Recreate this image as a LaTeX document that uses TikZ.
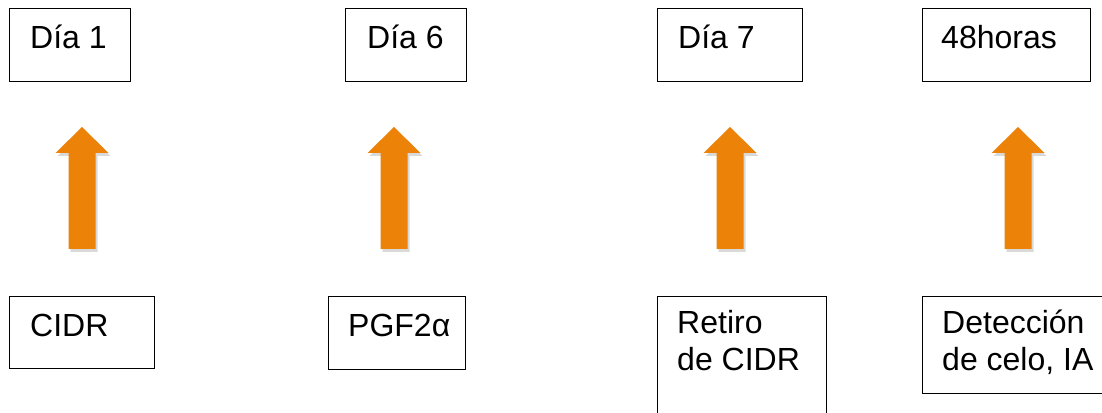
\documentclass[tikz,border=0pt]{standalone}
\usepackage{fontspec}
\setmainfont{Liberation Sans}
\usetikzlibrary{calc,shadows}
\definecolor{arroworange}{RGB}{236,130,8}
\def\blockarrow[#1](#2){\fill[#1] ($(#2)+(-13.5,0)$) -- ++(0,96) -- ++(-13,0) -- ++(26.5,26) -- ++(26.5,-26) -- ++(-13,0) -- ++(0,-96) -- cycle;}
\tikzset{
	tbox/.style={draw=black, line width=1pt, anchor=north west, inner sep=0pt},
	ttext/.style={anchor=north west, inner sep=0pt, align=left, font=\fontsize{32}{37}\selectfont, execute at begin node=\strut},
	orangearrow/.style={fill=arroworange, drop shadow={shadow xshift=2pt, shadow yshift=-3pt, opacity=.3}}
}

\begin{document}
\begin{tikzpicture}[x=1pt,y=1pt]
		%%%%% START %%%%%
		\useasboundingbox (0,0) rectangle (1102,412);
		\clip (0,0) rectangle (1102,412);
		
		% top row
		\node[tbox, minimum width=121pt, minimum height=73pt] (dia1) at (9,404) {};
		\node[tbox, minimum width=121pt, minimum height=73pt] (dia6) at (345,404) {};
		\node[tbox, minimum width=145pt, minimum height=73pt] (dia7) at (657,404) {};
		\node[tbox, minimum width=168pt, minimum height=73pt] (horas) at (922,404) {};
		
		\node[ttext] (dia1txt) at ($(dia1.north west)+(21,-14.1)$) {Día 1};
		\node[ttext] (dia6txt) at ($(dia6.north west)+(22,-14.1)$) {Día 6};
		\node[ttext] (dia7txt) at ($(dia7.north west)+(21,-14.1)$) {Día 7};
		\node[ttext] (horastxt) at ($(horas.north west)+(19,-14.1)$) {48horas};
		
		% arrows
		\coordinate (a1) at (82,163);
		\coordinate (a2) at (394,163);
		\coordinate (a3) at (730,163);
		\coordinate (a4) at (1018,163);
		\blockarrow[orangearrow](a1);
		\blockarrow[orangearrow](a2);
		\blockarrow[orangearrow](a3);
		\blockarrow[orangearrow](a4);
		
		% bottom row
		\node[tbox, minimum width=145pt, minimum height=72pt] (cidr) at (9,116) {};
		\node[tbox, minimum width=137pt, minimum height=73pt] (pgf) at (328,116) {};
		\node[tbox, minimum width=169pt, minimum height=130pt] (retiro) at (657,116) {};
		\node[tbox, minimum width=190pt, minimum height=97pt] (deteccion) at (922,116) {};
		
		\node[ttext] (cidrtxt) at ($(cidr.north west)+(21,-14.1)$) {CIDR};
		\node[ttext] (pgftxt) at ($(pgf.north west)+(20,-14.1)$) {PGF2α};
		\node[ttext] (retirotxt) at ($(retiro.north west)+(20,-14.1)$) {Retiro\\de CIDR};
		\node[ttext] (detecciontxt) at ($(deteccion.north west)+(20,-14.1)$) {Detección\\de celo, IA};
		
		%%%%% END %%%%%
\end{tikzpicture}
\end{document}
